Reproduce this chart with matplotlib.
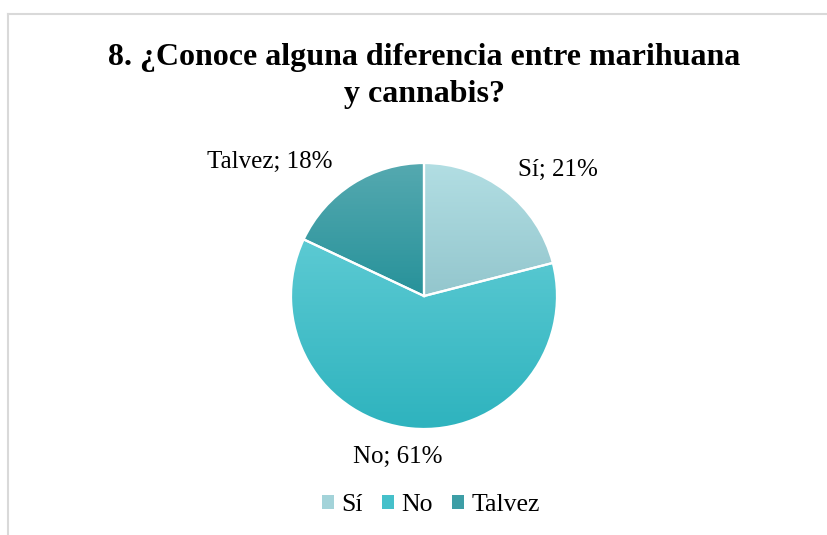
import numpy as np
import matplotlib
matplotlib.use("Agg")
import matplotlib.pyplot as plt
from matplotlib.patches import Patch
from matplotlib.lines import Line2D
from matplotlib.colors import LinearSegmentedColormap

categories = ["Sí", "No", "Talvez"]
percentages = [21, 61, 18]
title_text = "8. ¿Conoce alguna diferencia entre marihuana\ny cannabis?"

# gradient end colours for each slice (top, bottom)
grad_top = ["#b2dee3", "#5ccad3", "#55a9b0"]
grad_bottom = ["#93c6cd", "#2eb3be", "#27929a"]
legend_colors = ["#a3d3d9", "#45c0ca", "#3d9ea6"]

# label anchor positions in pie-radius units
label_pos = [(1.01, 0.95), (-0.20, -1.21), (-1.16, 1.01)]

plt.rcParams["font.family"] = ["Liberation Serif", "DejaVu Serif"]

W, H = 827, 535
fig = plt.figure(figsize=(W / 100, H / 100), dpi=100)

# chart-area border (top and left edges visible)
border = dict(color="#d9d9d9", lw=1.5, transform=fig.transFigure)
fig.add_artist(Line2D([8 / W, 1.0], [1 - 14 / H, 1 - 14 / H], **border))
fig.add_artist(Line2D([8 / W, 8 / W], [1 - 14 / H, 0.0], **border))

cx, cy, r = 424, 296, 133
half = 1.5 * r
ax = fig.add_axes([(cx - half) / W, (H - cy - half) / H, 2 * half / W, 2 * half / H])

wedges, _ = ax.pie(percentages, startangle=90, counterclock=False, radius=1.0,
                   colors=legend_colors,
                   wedgeprops=dict(edgecolor="white", linewidth=1.6))

for w, ctop, cbot in zip(wedges, grad_top, grad_bottom):
    bb = w.get_path().get_extents(w.get_transform() - ax.transData)
    cmap = LinearSegmentedColormap.from_list("g", [cbot, ctop])
    grad = np.linspace(0, 1, 256).reshape(-1, 1)
    im = ax.imshow(grad, cmap=cmap, origin="lower", aspect="auto",
                   extent=[bb.x0, bb.x1, bb.y0, bb.y1], zorder=w.get_zorder(),
                   interpolation="bilinear")
    im.set_clip_path(w)
    w.set_facecolor("none")
    w.set_zorder(w.get_zorder() + 0.5)
ax.set_xlim(-1.5, 1.5)
ax.set_ylim(-1.5, 1.5)
ax.set_aspect("equal")
ax.axis("off")

for cat, pct, (lx, ly) in zip(categories, percentages, label_pos):
    ax.text(lx, ly, f"{cat}; {pct}%", ha="center", va="center",
            fontsize=18, color="#000000", clip_on=False)

fig.text(424 / W, 1 - 76 / H, title_text, ha="center", va="center",
         fontsize=23, fontweight="bold", linespacing=1.32)

handles = [Patch(facecolor=c, edgecolor="none") for c in legend_colors]
fig.legend(handles, categories, loc="center", bbox_to_anchor=(431 / W, 1 - 505 / H),
           ncol=3, frameon=False, fontsize=18.5, handlelength=0.45, handleheight=0.45,
           handletextpad=0.3, columnspacing=0.75)

fig.savefig("out.png", dpi=100, facecolor="white")
